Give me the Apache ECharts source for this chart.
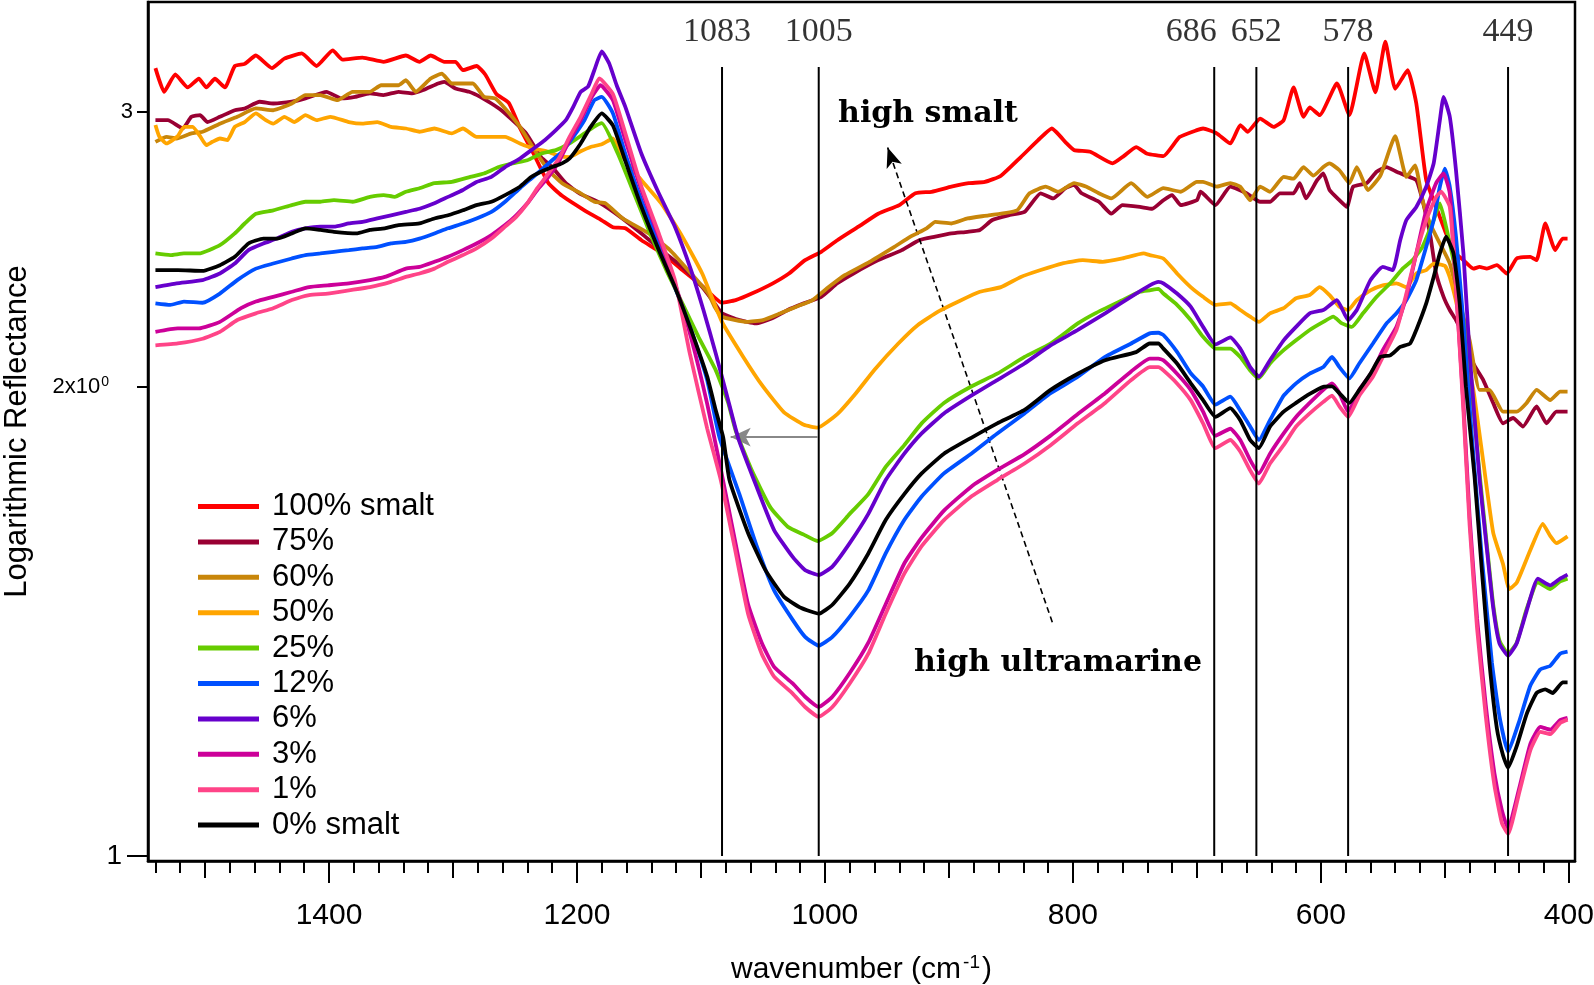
<!DOCTYPE html>
<html><head><meta charset="utf-8">
<script src="https://cdn.jsdelivr.net/npm/echarts@6/dist/echarts.min.js"></script>
<style>html,body{margin:0;padding:0;background:#fff}#c{width:1594px;height:985px}</style>
</head><body><div id="c"></div>
<script>
// ---------------- data ----------------
const seriesNames = ['100% smalt','75%','60%','50%','25%','12%','6%','3%','1%','0% smalt'];
const seriesColors = ['#FF0000','#990033','#C8860A','#FFA500','#66CC00','#0050FF','#6600CC','#CC0099','#FF4488','#000000'];

const s100 = [[1540,3.20],[1533,3.09],[1524,3.17],[1514,3.11],[1505,3.15],[1499,3.11],[1492,3.15],[1484,3.11],[1476,3.21],[1468,3.22],[1459,3.26],[1446,3.20],[1436,3.245],[1422,3.27],[1410,3.21],[1397,3.285],[1389,3.24],[1373,3.25],[1356,3.23],[1338,3.26],[1327,3.23],[1318,3.26],[1307,3.23],[1298,3.23],[1292,3.19],[1281,3.21],[1274,3.17],[1265,3.08],[1255,3.04],[1246,2.93],[1235,2.82],[1223,2.70],[1212,2.65],[1194,2.594],[1180,2.556],[1171,2.53],[1161,2.526],[1148,2.482],[1131,2.434],[1115,2.375],[1098,2.316],[1083,2.263],[1072,2.272],[1059,2.294],[1042,2.329],[1029,2.363],[1016,2.41],[1003,2.44],[990,2.482],[973,2.532],[957,2.581],[940,2.614],[927,2.66],[914,2.666],[898,2.686],[884,2.70],[871,2.705],[858,2.73],[842,2.806],[828,2.877],[817,2.927],[805,2.863],[799,2.835],[786,2.828],[768,2.78],[759,2.81],[749,2.848],[740,2.82],[727,2.81],[714,2.89],[700,2.92],[695,2.927],[684,2.906],[673,2.863],[665,2.942],[659,2.913],[649,2.97],[638,2.934],[630,2.963],[622,3.11],[614,2.978],[609,3.02],[601,2.985],[587,3.128],[577,2.985],[565,3.27],[556,3.087],[548,3.327],[540,3.103],[530,3.19],[523,3.037],[515,2.712],[507,2.607],[499,2.507],[491,2.434],[485,2.41],[477,2.38],[472,2.386],[466,2.38],[458,2.392],[450,2.363],[442,2.416],[431,2.422],[426,2.41],[419,2.544],[411,2.446],[405,2.488],[401,2.488]];

const s75 = [[1540,2.963],[1530,2.963],[1518,2.927],[1511,2.978],[1504,2.985],[1498,2.955],[1488,2.978],[1476,3.007],[1468,3.015],[1456,3.045],[1445,3.037],[1430,3.045],[1419,3.06],[1402,3.09],[1390,3.06],[1379,3.067],[1367,3.083],[1356,3.075],[1344,3.09],[1333,3.083],[1324,3.098],[1312,3.128],[1307,3.136],[1298,3.105],[1287,3.09],[1278,3.067],[1269,3.037],[1261,3.007],[1252,2.963],[1241,2.906],[1229,2.806],[1220,2.765],[1209,2.70],[1198,2.66],[1181,2.621],[1165,2.569],[1148,2.507],[1132,2.446],[1115,2.386],[1099,2.316],[1089,2.261],[1083,2.228],[1069,2.206],[1056,2.195],[1043,2.211],[1030,2.239],[1017,2.261],[1003,2.283],[990,2.329],[977,2.363],[957,2.41],[938,2.446],[924,2.482],[911,2.495],[898,2.507],[885,2.513],[875,2.52],[865,2.557],[852,2.575],[839,2.588],[826,2.66],[816,2.64],[806,2.68],[799,2.693],[793,2.66],[779,2.627],[769,2.581],[760,2.614],[746,2.607],[736,2.60],[727,2.633],[720,2.653],[713,2.614],[700,2.633],[697,2.666],[685,2.614],[673,2.686],[660,2.66],[649,2.627],[641,2.627],[633,2.66],[622,2.66],[617,2.70],[612,2.64],[603,2.712],[598,2.739],[593,2.673],[585,2.633],[579,2.607],[574,2.686],[563,2.70],[555,2.746],[547,2.765],[539,2.746],[531,2.73],[523,2.712],[518,2.633],[512,2.507],[507,2.363],[501,2.283],[496,2.239],[491,2.206],[483,2.141],[477,2.069],[469,2.019],[461,1.952],[453,1.894],[445,1.909],[437,1.885],[426,1.942],[418,1.894],[410,1.927],[401,1.927]];

const s60 = [[1540,2.87],[1531,2.891],[1523,2.884],[1511,2.906],[1502,2.913],[1488,2.948],[1474,2.978],[1459,3.015],[1445,3.007],[1430,3.037],[1419,3.075],[1407,3.075],[1393,3.052],[1381,3.09],[1367,3.09],[1358,3.12],[1344,3.12],[1338,3.143],[1330,3.09],[1318,3.151],[1309,3.174],[1301,3.128],[1292,3.128],[1284,3.128],[1275,3.067],[1266,3.06],[1258,3.015],[1246,2.934],[1235,2.842],[1223,2.752],[1212,2.70],[1197,2.66],[1186,2.627],[1177,2.621],[1163,2.563],[1142,2.507],[1125,2.446],[1108,2.363],[1094,2.294],[1089,2.25],[1083,2.217],[1063,2.20],[1050,2.206],[1036,2.228],[1023,2.25],[1010,2.272],[997,2.316],[984,2.357],[964,2.404],[944,2.458],[931,2.495],[918,2.526],[911,2.55],[898,2.544],[885,2.563],[868,2.575],[845,2.594],[835,2.66],[822,2.686],[812,2.666],[799,2.70],[789,2.686],[779,2.66],[769,2.64],[753,2.70],[740,2.646],[727,2.68],[713,2.666],[700,2.705],[695,2.705],[684,2.686],[673,2.70],[665,2.686],[657,2.633],[649,2.686],[641,2.666],[630,2.725],[622,2.718],[614,2.765],[606,2.73],[598,2.765],[593,2.78],[585,2.752],[577,2.70],[571,2.765],[562,2.673],[552,2.73],[540,2.894],[531,2.725],[524,2.772],[518,2.633],[512,2.544],[504,2.47],[496,2.398],[488,2.261],[480,2.141],[472,1.99],[464,1.99],[453,1.927],[442,1.927],[434,1.952],[426,1.99],[415,1.96],[407,1.985],[401,1.985]];

const s50 = [[1540,2.942],[1537,2.894],[1531,2.863],[1522,2.894],[1517,2.934],[1510,2.934],[1504,2.894],[1499,2.856],[1494,2.87],[1488,2.884],[1482,2.877],[1476,2.934],[1468,2.955],[1459,2.993],[1451,2.963],[1445,2.948],[1436,2.978],[1428,2.955],[1419,2.985],[1410,2.963],[1399,2.978],[1384,2.955],[1373,2.948],[1361,2.955],[1350,2.934],[1338,2.927],[1327,2.913],[1315,2.927],[1301,2.906],[1292,2.927],[1281,2.891],[1269,2.891],[1258,2.891],[1246,2.863],[1235,2.842],[1223,2.828],[1214,2.81],[1206,2.806],[1197,2.83],[1189,2.848],[1180,2.86],[1171,2.884],[1165,2.82],[1148,2.712],[1132,2.621],[1115,2.495],[1099,2.363],[1083,2.2],[1066,2.09],[1050,2.0],[1033,1.925],[1017,1.89],[1006,1.882],[990,1.92],[975,1.98],[960,2.05],[941,2.13],[925,2.19],[908,2.235],[891,2.27],[875,2.30],[858,2.316],[842,2.351],[826,2.375],[809,2.398],[792,2.41],[776,2.404],[760,2.416],[743,2.434],[738,2.428],[727,2.416],[716,2.363],[705,2.316],[695,2.283],[685,2.256],[673,2.261],[665,2.239],[657,2.217],[650,2.20],[641,2.228],[630,2.245],[620,2.278],[609,2.289],[601,2.316],[593,2.289],[585,2.25],[578,2.239],[571,2.272],[560,2.305],[550,2.322],[539,2.329],[531,2.316],[523,2.363],[515,2.375],[509,2.398],[500,2.39],[496,2.35],[490,2.25],[485,2.14],[477,1.99],[469,1.79],[461,1.612],[453,1.538],[448,1.483],[442,1.497],[431,1.571],[421,1.633],[415,1.604],[410,1.587],[401,1.603]];

const s25 = [[1540,2.434],[1528,2.428],[1517,2.434],[1505,2.434],[1488,2.464],[1476,2.507],[1468,2.544],[1459,2.581],[1445,2.594],[1430,2.614],[1419,2.627],[1407,2.627],[1396,2.633],[1381,2.627],[1367,2.646],[1356,2.653],[1347,2.646],[1338,2.666],[1327,2.68],[1315,2.70],[1301,2.705],[1286,2.725],[1275,2.739],[1263,2.765],[1252,2.78],[1240,2.793],[1229,2.82],[1217,2.835],[1206,2.863],[1194,2.906],[1186,2.935],[1180,2.95],[1167,2.82],[1154,2.66],[1141,2.507],[1128,2.375],[1115,2.261],[1102,2.152],[1088,2.048],[1078,1.952],[1072,1.874],[1059,1.767],[1044,1.673],[1030,1.626],[1017,1.607],[1006,1.592],[994,1.611],[980,1.657],[965,1.706],[951,1.776],[936,1.834],[922,1.894],[904,1.952],[882,2.0],[861,2.038],[839,2.089],[818,2.131],[796,2.195],[782,2.228],[760,2.272],[746,2.30],[738,2.305],[731,2.31],[727,2.294],[717,2.26],[705,2.206],[695,2.152],[685,2.115],[673,2.115],[665,2.089],[657,2.048],[650,2.024],[641,2.069],[630,2.11],[620,2.141],[609,2.174],[598,2.20],[590,2.217],[583,2.195],[575,2.184],[566,2.228],[555,2.283],[544,2.329],[534,2.38],[526,2.41],[518,2.458],[509,2.557],[504,2.621],[499,2.532],[491,2.363],[485,2.206],[480,2.05],[472,1.76],[466,1.58],[461,1.45],[456,1.375],[449,1.348],[442,1.37],[434,1.44],[425,1.498],[415,1.483],[407,1.50],[401,1.506]];

const s12 = [[1540,2.261],[1528,2.256],[1517,2.267],[1502,2.263],[1488,2.294],[1474,2.34],[1459,2.38],[1445,2.398],[1430,2.416],[1419,2.428],[1407,2.434],[1396,2.44],[1384,2.446],[1373,2.452],[1361,2.458],[1350,2.47],[1338,2.476],[1327,2.488],[1315,2.507],[1304,2.526],[1292,2.544],[1281,2.563],[1269,2.588],[1258,2.627],[1246,2.68],[1237,2.718],[1229,2.752],[1220,2.793],[1212,2.828],[1203,2.891],[1194,2.963],[1186,3.052],[1180,3.067],[1171,2.993],[1161,2.82],[1148,2.633],[1134,2.47],[1121,2.316],[1108,2.174],[1095,2.019],[1085,1.854],[1069,1.706],[1055,1.58],[1041,1.48],[1026,1.417],[1016,1.382],[1005,1.364],[994,1.382],[980,1.424],[965,1.48],[951,1.563],[936,1.642],[922,1.70],[904,1.759],[882,1.811],[861,1.866],[839,1.922],[818,1.98],[796,2.029],[774,2.089],[753,2.131],[738,2.163],[731,2.165],[727,2.158],[716,2.105],[705,2.04],[695,2.0],[685,1.947],[673,1.97],[665,1.93],[657,1.885],[650,1.848],[641,1.903],[630,1.973],[620,2.009],[609,2.038],[598,2.058],[591,2.089],[585,2.058],[577,2.024],[569,2.069],[558,2.131],[547,2.195],[539,2.228],[531,2.272],[523,2.34],[515,2.458],[509,2.557],[504,2.686],[500,2.759],[496,2.686],[491,2.495],[485,2.2],[478,1.85],[470,1.55],[462,1.33],[456,1.23],[449,1.166],[440,1.22],[431,1.286],[423,1.317],[415,1.324],[407,1.348],[401,1.352]];

const s6 = [[1540,2.316],[1523,2.329],[1502,2.34],[1488,2.363],[1476,2.398],[1465,2.446],[1453,2.47],[1442,2.488],[1430,2.513],[1419,2.526],[1407,2.532],[1396,2.532],[1384,2.544],[1373,2.55],[1361,2.563],[1350,2.575],[1338,2.588],[1327,2.60],[1315,2.621],[1304,2.646],[1292,2.673],[1281,2.705],[1269,2.725],[1258,2.765],[1246,2.80],[1235,2.842],[1226,2.877],[1217,2.92],[1209,2.963],[1203,3.022],[1197,3.09],[1191,3.114],[1186,3.19],[1180,3.28],[1174,3.222],[1168,3.12],[1161,3.022],[1148,2.82],[1134,2.66],[1121,2.532],[1108,2.375],[1098,2.239],[1088,2.099],[1079,1.973],[1070,1.854],[1055,1.724],[1041,1.618],[1026,1.555],[1016,1.525],[1005,1.514],[994,1.533],[980,1.587],[965,1.657],[951,1.742],[936,1.811],[922,1.866],[904,1.922],[882,1.973],[861,2.019],[839,2.069],[818,2.125],[796,2.174],[774,2.228],[749,2.294],[738,2.322],[731,2.334],[727,2.329],[716,2.294],[705,2.25],[695,2.184],[685,2.128],[673,2.15],[665,2.115],[657,2.058],[650,2.029],[641,2.079],[630,2.141],[620,2.184],[609,2.228],[598,2.239],[587,2.272],[578,2.206],[571,2.239],[560,2.34],[550,2.386],[542,2.375],[536,2.482],[531,2.557],[523,2.607],[515,2.686],[509,2.78],[504,2.963],[501,3.067],[496,2.978],[491,2.752],[485,2.434],[480,2.099],[472,1.745],[466,1.571],[461,1.443],[456,1.369],[449,1.344],[442,1.369],[434,1.436],[425,1.506],[415,1.491],[407,1.506],[401,1.515]];

const s3 = [[1540,2.168],[1522,2.179],[1505,2.179],[1488,2.20],[1471,2.245],[1459,2.267],[1445,2.283],[1430,2.30],[1416,2.316],[1401,2.322],[1384,2.329],[1367,2.34],[1355,2.351],[1338,2.38],[1327,2.386],[1315,2.404],[1304,2.422],[1292,2.446],[1281,2.47],[1269,2.501],[1258,2.538],[1249,2.575],[1240,2.621],[1232,2.673],[1223,2.725],[1214,2.793],[1206,2.877],[1197,2.963],[1188,3.067],[1181,3.12],[1171,3.052],[1161,2.877],[1148,2.673],[1134,2.495],[1121,2.329],[1108,2.15],[1095,1.95],[1084,1.77],[1073,1.60],[1062,1.45],[1051,1.37],[1041,1.322],[1026,1.29],[1016,1.265],[1005,1.246],[994,1.265],[980,1.31],[965,1.37],[951,1.45],[936,1.54],[922,1.60],[904,1.665],[882,1.725],[861,1.768],[839,1.81],[818,1.86],[796,1.92],[774,1.98],[753,2.045],[738,2.084],[731,2.084],[727,2.079],[716,2.038],[705,1.99],[695,1.927],[685,1.86],[673,1.879],[665,1.848],[657,1.794],[650,1.759],[641,1.811],[630,1.866],[620,1.912],[609,1.952],[598,1.99],[591,2.009],[585,1.98],[578,1.927],[569,1.99],[558,2.048],[550,2.11],[539,2.184],[531,2.283],[523,2.434],[515,2.594],[507,2.70],[501,2.739],[496,2.66],[491,2.316],[485,1.95],[480,1.65],[474,1.42],[467,1.25],[460,1.13],[454,1.07],[449,1.041],[440,1.105],[431,1.18],[423,1.21],[415,1.205],[407,1.222],[401,1.226]];

const s1 = [[1540,2.125],[1522,2.131],[1502,2.146],[1488,2.168],[1474,2.206],[1459,2.228],[1445,2.245],[1430,2.272],[1416,2.289],[1401,2.294],[1384,2.305],[1367,2.316],[1350,2.334],[1338,2.351],[1327,2.363],[1315,2.38],[1304,2.404],[1292,2.428],[1281,2.452],[1269,2.488],[1258,2.532],[1249,2.569],[1240,2.621],[1232,2.68],[1223,2.739],[1214,2.806],[1206,2.891],[1197,2.978],[1188,3.083],[1182,3.152],[1171,3.08],[1161,2.906],[1148,2.686],[1134,2.507],[1121,2.34],[1109,2.10],[1095,1.88],[1084,1.742],[1073,1.58],[1062,1.43],[1051,1.348],[1041,1.303],[1026,1.271],[1016,1.246],[1005,1.228],[994,1.246],[980,1.29],[965,1.348],[951,1.43],[936,1.517],[922,1.58],[904,1.642],[882,1.70],[861,1.742],[839,1.785],[818,1.834],[796,1.894],[774,1.952],[753,2.019],[738,2.058],[731,2.058],[727,2.048],[716,2.009],[705,1.96],[695,1.894],[685,1.826],[673,1.848],[665,1.817],[657,1.767],[650,1.733],[641,1.785],[630,1.834],[620,1.885],[609,1.922],[598,1.955],[591,1.973],[585,1.942],[578,1.912],[569,1.973],[558,2.029],[550,2.089],[539,2.174],[531,2.294],[523,2.434],[515,2.557],[507,2.646],[503,2.666],[496,2.607],[491,2.316],[485,1.93],[480,1.63],[474,1.40],[467,1.23],[460,1.11],[454,1.05],[449,1.033],[440,1.098],[431,1.169],[423,1.201],[415,1.197],[407,1.217],[401,1.223]];

const s0 = [[1540,2.375],[1522,2.375],[1502,2.372],[1488,2.392],[1476,2.422],[1465,2.47],[1453,2.488],[1442,2.488],[1430,2.507],[1419,2.526],[1407,2.52],[1396,2.513],[1378,2.507],[1367,2.52],[1355,2.526],[1344,2.538],[1327,2.544],[1315,2.563],[1304,2.575],[1292,2.594],[1281,2.614],[1269,2.627],[1258,2.653],[1246,2.686],[1237,2.725],[1229,2.746],[1220,2.765],[1212,2.78],[1206,2.80],[1197,2.863],[1189,2.934],[1180,2.993],[1171,2.94],[1161,2.79],[1148,2.607],[1134,2.446],[1121,2.316],[1108,2.174],[1095,2.03],[1088,1.93],[1082,1.854],[1077,1.742],[1062,1.611],[1048,1.525],[1033,1.466],[1019,1.442],[1005,1.43],[994,1.449],[980,1.495],[965,1.563],[951,1.642],[936,1.706],[922,1.759],[904,1.811],[882,1.854],[861,1.894],[839,1.932],[818,1.99],[796,2.038],[774,2.079],[749,2.104],[738,2.131],[731,2.131],[727,2.115],[716,2.069],[705,2.01],[695,1.96],[685,1.912],[673,1.937],[665,1.903],[657,1.848],[650,1.826],[641,1.885],[630,1.927],[620,1.952],[609,1.978],[598,1.999],[591,2.0],[585,1.98],[577,1.952],[569,1.99],[560,2.038],[552,2.089],[544,2.094],[536,2.12],[528,2.131],[523,2.174],[515,2.261],[509,2.351],[504,2.434],[499,2.495],[493,2.434],[488,2.261],[483,2.0],[476,1.75],[470,1.52],[464,1.33],[458,1.207],[453,1.16],[449,1.139],[442,1.176],[434,1.233],[426,1.272],[419,1.279],[413,1.272],[405,1.292],[401,1.292]];

const seriesData = [s100, s75, s60, s50, s25, s12, s6, s3, s1, s0];

// band positions marked by vertical lines
const peakPositions = [1083, 1005, 686, 652, 578, 449];

// axis ticks
const xLabelTicks = [400, 600, 800, 1000, 1200, 1400];
const xMidTicks = [500, 700, 900, 1100, 1300, 1500];
const xMinorTicks = [];
for (let t = 400; t <= 1540; t += 20) xMinorTicks.push(t);
const yTickSmall = [3];
const yTickMid = [2];
const yTickMajor = [1];

// annotation arrows (data coordinates)
const trendArrow = [[816.6, 1.412], [949.4, 2.846]];
const shiftArrow = [[1006, 1.856], [1076, 1.856]];

// ---------------- chart ----------------
const X_MIN = 395, X_MAX = 1546, Y_MIN = 0.9926, Y_MAX = 3.528;
const LINE_BOTTOM = 1.0, LINE_TOP = 3.205;
const SANS = '"Liberation Sans", Arial, sans-serif';
const SERIF = '"Liberation Serif", "Times New Roman", serif';
const gridRect = {left: 148, right: 19, top: 2, bottom: 124, containLabel: false, outerBoundsMode: 'none'};
const labelShift = {1083: -5, 686: -23};

function xAx(gi, tickVals, len, withLabels) {
  const a = {
    type: 'value', gridIndex: gi, inverse: true, min: X_MIN, max: X_MAX, position: 'bottom',
    axisLine: {show: gi === 0, lineStyle: {color: '#000', width: 2.5}},
    splitLine: {show: false},
    axisTick: {show: true, inside: false, customValues: tickVals, length: len, lineStyle: {color: '#000', width: 2}},
    axisLabel: {show: false}
  };
  if (withLabels) {
    a.axisLabel = {show: true, customValues: tickVals, margin: 40, fontSize: 30, fontFamily: SANS, color: '#000',
      formatter: v => String(v)};
    a.name = 'wavenumber (cm{sup|-1})';
    a.nameLocation = 'middle';
    a.nameGap = 92;
    a.nameTextStyle = {fontSize: 30, fontFamily: SANS, color: '#000', lineHeight: 34,
      rich: {sup: {fontSize: 19, fontFamily: SANS, color: '#000', verticalAlign: 'top', lineHeight: 34, padding: [0, 2, 14, 2]}}};
  }
  return a;
}
function yAx(gi, tickVals, len, fs, margin, fmt) {
  return {
    type: 'log', logBase: 10, gridIndex: gi, min: Y_MIN, max: Y_MAX, position: 'left',
    axisLine: {show: gi === 0, lineStyle: {color: '#000', width: 2.5}},
    splitLine: {show: false}, minorTick: {show: false},
    axisTick: {show: true, inside: false, customValues: tickVals, length: len, lineStyle: {color: '#000', width: 2}},
    axisLabel: {show: true, customValues: tickVals, margin: margin, fontSize: fs, fontFamily: SANS, color: '#000',
      formatter: fmt, rich: {sup: {fontSize: 14, fontFamily: SANS, color: '#000', verticalAlign: 'top', padding: [0, 0, 9, 1]}}}
  };
}

const series = [];
seriesNames.forEach((nm, i) => {
  series.push({
    name: nm, type: 'line', xAxisIndex: 0, yAxisIndex: 0, data: seriesData[i],
    symbol: 'none', showSymbol: false, smooth: 0.15, animation: false,
    lineStyle: {color: seriesColors[i], width: 3.8}, itemStyle: {color: seriesColors[i]}, z: 3 + i
  });
});
peakPositions.forEach(p => {
  series.push({
    name: 'band ' + p, type: 'line', xAxisIndex: 0, yAxisIndex: 0,
    data: [[p, LINE_BOTTOM], [p, LINE_TOP]], symbol: 'none', showSymbol: false, silent: true,
    lineStyle: {color: '#000', width: 2}, z: 20, animation: false
  });
  series.push({
    name: 'band label ' + p, type: 'scatter', xAxisIndex: 0, yAxisIndex: 0,
    data: [[p, LINE_TOP]], symbolSize: 1, itemStyle: {color: 'rgba(0,0,0,0)'}, silent: true, z: 20,
    label: {show: true, position: 'top', distance: 17, offset: [labelShift[p] || 0, 0], formatter: String(p),
      fontFamily: SERIF, fontSize: 34, color: '#000'},
    animation: false
  });
});
series.push({
  name: 'arrows', type: 'line', xAxisIndex: 0, yAxisIndex: 0, data: [], silent: true, animation: false,
  markLine: {
    silent: true, animation: false, label: {show: false},
    data: [
      [{coord: trendArrow[0], symbol: 'none', lineStyle: {color: '#000', width: 1.6, type: [6, 4]}},
       {coord: trendArrow[1], symbol: 'arrow', symbolSize: [12, 20]}],
      [{coord: shiftArrow[0], symbol: 'none', lineStyle: {color: '#888', width: 2, type: 'solid'}},
       {coord: shiftArrow[1], symbol: 'arrow', symbolSize: [14, 20]}]
    ]
  }
});
// invisible extent holders for the tick-only grids
[1, 2].forEach(gi => {
  series.push({
    name: 'extent ' + gi, type: 'line', xAxisIndex: gi, yAxisIndex: gi, silent: true, animation: false,
    data: [[X_MIN, Y_MIN], [X_MAX, Y_MAX]], symbol: 'none', lineStyle: {opacity: 0}
  });
});

const option = {
  backgroundColor: '#fff',
  animation: false,
  grid: [
    Object.assign({show: true, borderColor: '#000', borderWidth: 2.5, backgroundColor: 'transparent'}, gridRect),
    Object.assign({show: false}, gridRect),
    Object.assign({show: false}, gridRect)
  ],
  xAxis: [xAx(0, xMinorTicks, 12, false), xAx(1, xMidTicks, 17, false), xAx(2, xLabelTicks, 22, true)],
  yAxis: [
    Object.assign(yAx(0, yTickSmall, 11, 22, 15, v => String(v)), {
      name: 'Logarithmic Reflectance', nameLocation: 'middle', nameGap: 115, nameRotate: 90,
      nameTextStyle: {fontSize: 31, fontFamily: SANS, color: '#000'}
    }),
    yAx(1, yTickMid, 11, 22, 39, v => '2x10{sup|0}'),
    yAx(2, yTickMajor, 21, 28, 26, v => String(v))
  ],
  legend: {
    data: seriesNames, orient: 'vertical', left: 193, top: 486, icon: 'rect',
    itemWidth: 61, itemHeight: 5, itemGap: 4.4, selectedMode: false,
    textStyle: {fontSize: 31, fontFamily: SANS, color: '#000', lineHeight: 30, padding: [0, 0, 0, 8]}
  },
  graphic: [
    {type: 'text', x: 928, y: 114, z: 50, style: {text: 'high smalt', font: 'bold 30px "DejaVu Serif"', fill: '#000', textAlign: 'center', textVerticalAlign: 'middle'}},
    {type: 'text', x: 1058, y: 663, z: 50, style: {text: 'high ultramarine', font: 'bold 30px "DejaVu Serif"', fill: '#000', textAlign: 'center', textVerticalAlign: 'middle'}}
  ],
  series: series
};
const chart = echarts.init(document.getElementById('c'), null, {renderer: 'canvas'});
chart.setOption(option);
</script></body></html>
